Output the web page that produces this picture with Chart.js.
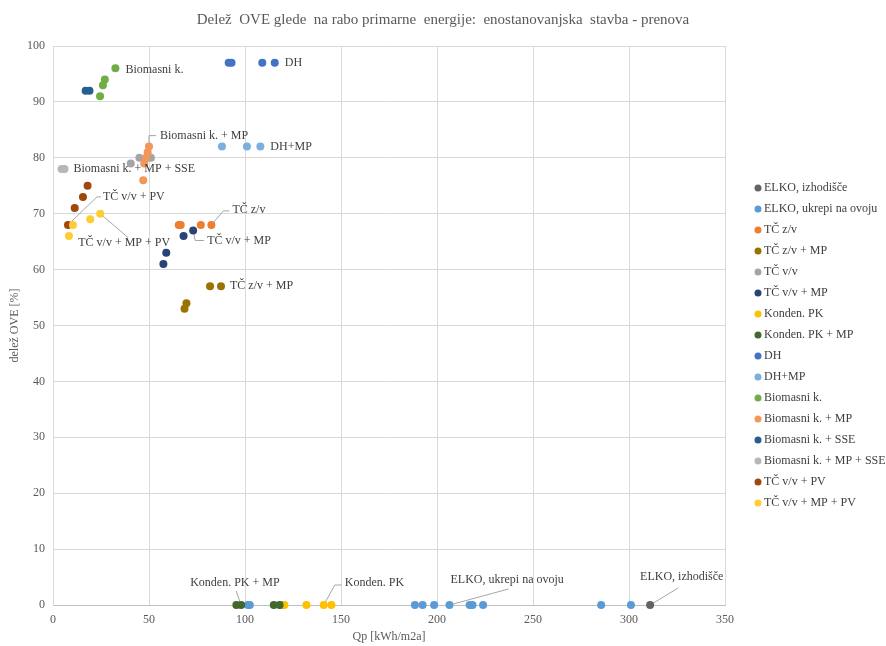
<!DOCTYPE html>
<html>
<head>
<meta charset="utf-8">
<title>Delež OVE - prenova</title>
<script src="https://cdn.jsdelivr.net/npm/chart.js@4/dist/chart.umd.min.js"></script>
<style>
  html, body { margin: 0; padding: 0; background: #fff; }
  #wrap { width: 886px; height: 646px; }
</style>
</head>
<body>
<div id="wrap"><canvas id="chart" width="886" height="646"></canvas></div>
<script>
const seriesNames = [
  'ELKO, izhodišče', 'ELKO, ukrepi na ovoju', 'TČ z/v', 'TČ z/v + MP',
  'TČ v/v', 'TČ v/v + MP', 'Konden. PK', 'Konden. PK + MP',
  'DH', 'DH+MP', 'Biomasni k.', 'Biomasni k. + MP',
  'Biomasni k. + SSE', 'Biomasni k. + MP + SSE', 'TČ v/v + PV', 'TČ v/v + MP + PV'
];
const seriesColors = [
  '#636363', '#5b9bd5', '#ed7d31', '#997300',
  '#a5a5a5', '#264478', '#ffc000', '#43682b',
  '#4472c4', '#7cafdd', '#70ad47', '#f1975a',
  '#255e91', '#b7b7b7', '#9e480e', '#ffcd33'
];

// Qp [kWh/m2a] and delež OVE [%] per variant
const qpElkoIzh = [311];
const oveElkoIzh = [0];
const qpElkoOvoj = [101.5, 102.5, 119, 188.5, 192.5, 198.5, 206.5, 217, 218.5, 224, 285.5, 301];
const oveElkoOvoj = [0, 0, 0, 0, 0, 0, 0, 0, 0, 0, 0, 0];
const qpTczv = [65.5, 66.5, 77, 82.5];
const oveTczv = [68, 68, 68, 68];
const qpTczvMp = [68.5, 69.5, 81.8, 87.5];
const oveTczvMp = [53, 54, 57, 57];
const qpTcvv = [40.5, 45, 49, 51];
const oveTcvv = [79, 80, 80, 80];
const qpTcvvMp = [57.5, 59, 68, 73];
const oveTcvvMp = [61, 63, 66, 67];
const qpKonden = [120.5, 132, 141, 145];
const oveKonden = [0, 0, 0, 0];
const qpKondenMp = [95.5, 98, 115, 118];
const oveKondenMp = [0, 0, 0, 0];
const qpDh = [91.5, 93, 109, 115.5];
const oveDh = [97, 97, 97, 97];
const qpDhMp = [88, 101, 108];
const oveDhMp = [82, 82, 82];
const qpBio = [24.5, 26, 27, 32.5];
const oveBio = [91, 93, 94, 96];
const qpBioMp = [47, 47.5, 48.5, 49.3, 50];
const oveBioMp = [76, 79, 80, 81, 82];
const qpBioSse = [17, 19];
const oveBioSse = [92, 92];
const qpBioMpSse = [4.5, 6];
const oveBioMpSse = [78, 78];
const qpTcvvPv = [7.8, 11.3, 15.6, 18];
const oveTcvvPv = [68, 71, 73, 75];
const qpTcvvMpPv = [8.3, 10.4, 19.4, 24.6];
const oveTcvvMpPv = [66, 68, 69, 70];

const qpSeries = [qpElkoIzh, qpElkoOvoj, qpTczv, qpTczvMp, qpTcvv, qpTcvvMp, qpKonden, qpKondenMp,
  qpDh, qpDhMp, qpBio, qpBioMp, qpBioSse, qpBioMpSse, qpTcvvPv, qpTcvvMpPv];
const oveSeries = [oveElkoIzh, oveElkoOvoj, oveTczv, oveTczvMp, oveTcvv, oveTcvvMp, oveKonden, oveKondenMp,
  oveDh, oveDhMp, oveBio, oveBioMp, oveBioSse, oveBioMpSse, oveTcvvPv, oveTcvvMpPv];

const xTicks = [0, 50, 100, 150, 200, 250, 300, 350];
const yTicks = [0, 10, 20, 30, 40, 50, 60, 70, 80, 90, 100];

// which point of a series carries its name, and where the text sits (px from the point)
const pointLabels = [
  { series: 'Biomasni k.', index: 3, dx: 10, dy: 1 },
  { series: 'DH', index: 3, dx: 10, dy: 0 },
  { series: 'Biomasni k. + MP', index: 4, dx: 11, dy: -11, leader: [[0, -11], [7, -11]] },
  { series: 'DH+MP', index: 2, dx: 10, dy: 0 },
  { series: 'Biomasni k. + MP + SSE', index: 1, dx: 9, dy: 0 },
  { series: 'TČ v/v + PV', index: 0, dx: 35, dy: -28, leader: [[29, -28], [33, -28]] },
  { series: 'TČ z/v', index: 3, dx: 21, dy: -15, leader: [[12, -14], [18, -14]] },
  { series: 'TČ v/v + MP + PV', index: 3, dx: -22, dy: 29, leader: [[28, 24]] },
  { series: 'TČ v/v + MP', index: 3, dx: 14, dy: 10, leader: [[2, 10], [11, 10]] },
  { series: 'TČ z/v + MP', index: 3, dx: 9, dy: -1 },
  { series: 'Konden. PK + MP', index: 1, dx: -51, dy: -22, leader: [[-5, -14]] },
  { series: 'Konden. PK', index: 2, dx: 21, dy: -22, leader: [[11, -20], [18, -20]] },
  { series: 'ELKO, ukrepi na ovoju', index: 6, dx: 1, dy: -25, leader: [[59, -16]] },
  { series: 'ELKO, izhodišče', index: 0, dx: -10, dy: -28, leader: [[28, -17]] }
];

const serif = "'Liberation Serif', 'Times New Roman', serif";

const datasets = seriesNames.map((name, i) => ({
  label: name,
  data: qpSeries[i].map((x, j) => ({ x: x, y: oveSeries[i][j] })),
  backgroundColor: seriesColors[i],
  borderWidth: 0,
  pointRadius: 4,
  pointHoverRadius: 4,
  clip: false,
  order: seriesNames.length - i
}));

const labelPlugin = {
  id: 'pointLabels',
  beforeDatasetsDraw(chart) {
    const ctx = chart.ctx;
    ctx.save();
    ctx.strokeStyle = '#a6a6a6';
    ctx.lineWidth = 1;
    pointLabels.forEach(l => {
      if (!l.leader) return;
      const el = chart.getDatasetMeta(seriesNames.indexOf(l.series)).data[l.index];
      ctx.beginPath();
      ctx.moveTo(el.x, el.y);
      l.leader.forEach(p => ctx.lineTo(el.x + p[0], el.y + p[1]));
      ctx.stroke();
    });
    ctx.restore();
  },
  afterDatasetsDraw(chart) {
    const ctx = chart.ctx;
    ctx.save();
    ctx.font = '12px ' + serif;
    ctx.fillStyle = '#404040';
    ctx.textAlign = 'left';
    ctx.textBaseline = 'middle';
    pointLabels.forEach(l => {
      const el = chart.getDatasetMeta(seriesNames.indexOf(l.series)).data[l.index];
      ctx.fillText(l.series, el.x + l.dx, el.y + l.dy);
    });
    ctx.restore();
  }
};

// legend column to the right of the plot
const sideLegend = {
  id: 'sideLegend',
  afterDraw(chart) {
    const ctx = chart.ctx;
    const x0 = chart.chartArea.right + 33;
    const y0 = 188;
    ctx.save();
    ctx.font = '12px ' + serif;
    ctx.textAlign = 'left';
    ctx.textBaseline = 'middle';
    seriesNames.forEach((name, i) => {
      const y = y0 + i * 21;
      ctx.fillStyle = seriesColors[i];
      ctx.beginPath();
      ctx.arc(x0, y, 3.5, 0, Math.PI * 2);
      ctx.fill();
      ctx.fillStyle = '#404040';
      ctx.fillText(name, x0 + 6, y);
    });
    ctx.restore();
  }
};

new Chart(document.getElementById('chart'), {
  type: 'scatter',
  data: { datasets: datasets },
  options: {
    responsive: false,
    animation: false,
    layout: { padding: 0 },
    plugins: {
      legend: { display: false },
      tooltip: { enabled: false },
      title: {
        display: true,
        text: 'Delež  OVE glede  na rabo primarne  energije:  enostanovanjska  stavba - prenova',
        color: '#595959',
        font: { family: serif, size: 15, weight: 'normal' },
        padding: { top: 11, bottom: 17 }
      }
    },
    scales: {
      x: {
        type: 'linear',
        min: 0,
        max: 350,
        afterBuildTicks: s => { s.ticks = xTicks.map(v => ({ value: v })); },
        afterFit: s => { s.height = 41; },
        ticks: { color: '#595959', font: { family: serif, size: 12 }, padding: 8 },
        grid: { color: '#d9d9d9', drawTicks: false },
        border: { color: '#bfbfbf' },
        title: {
          display: true,
          text: 'Qp [kWh/m2a]',
          color: '#595959',
          font: { family: serif, size: 12 },
          padding: { top: 2, bottom: 2 }
        }
      },
      y: {
        type: 'linear',
        min: 0,
        max: 100,
        afterBuildTicks: s => { s.ticks = yTicks.map(v => ({ value: v })); },
        afterFit: s => { s.width = 53; },
        ticks: { color: '#595959', font: { family: serif, size: 12 }, padding: 8 },
        grid: { color: '#d9d9d9', drawTicks: false },
        border: { color: '#d9d9d9' },
        title: {
          display: true,
          text: 'delež OVE [%]',
          color: '#595959',
          font: { family: serif, size: 12 },
          padding: { top: 8, bottom: 2 }
        }
      },
      // empty strip on the right that holds the legend column
      side: {
        type: 'linear',
        position: 'right',
        min: 0,
        max: 100,
        afterFit: s => { s.width = 161; },
        ticks: { display: false },
        grid: { display: false },
        border: { display: false }
      }
    }
  },
  plugins: [labelPlugin, sideLegend]
});
</script>
</body>
</html>
